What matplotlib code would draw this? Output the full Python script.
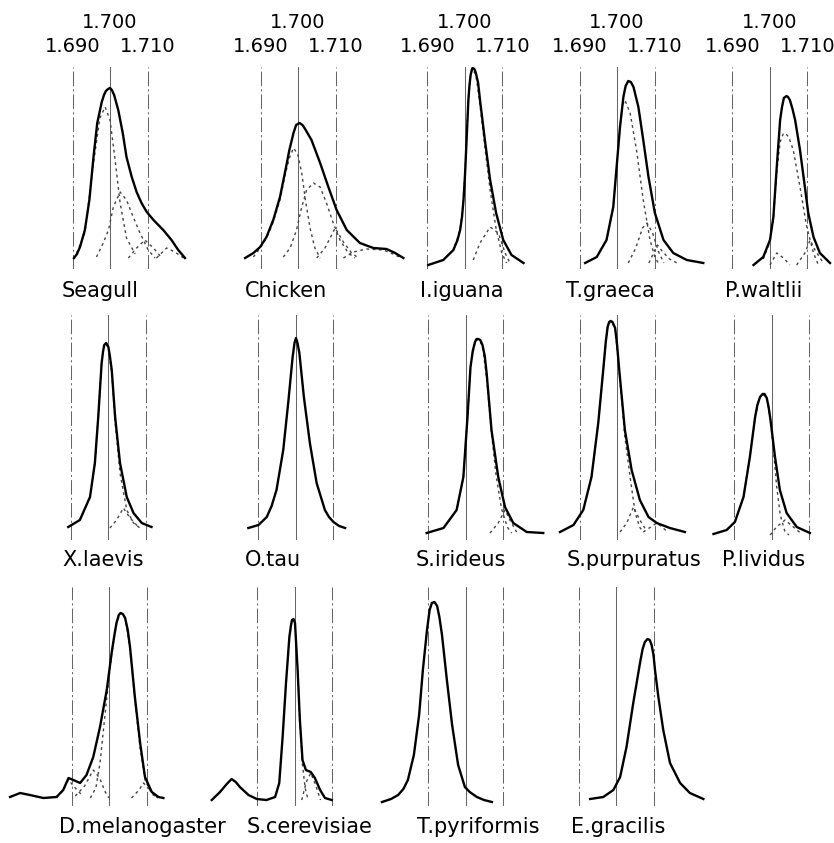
import matplotlib
matplotlib.use("Agg")
import matplotlib.pyplot as plt
from matplotlib.transforms import blended_transform_factory

# CsCl buoyant density (g/cm3) vs relative absorbance
SEAGULL_D = [1.6904, 1.6912, 1.6920, 1.6933, 1.6945, 1.6956, 1.6966, 1.6978, 1.6984, 1.6989, 1.6995,
             1.7000, 1.7005, 1.7011, 1.7022, 1.7034, 1.7044, 1.7058, 1.7071, 1.7084, 1.7098, 1.7116,
             1.7142, 1.7164, 1.7182, 1.7200]
SEAGULL_A = [0, 4, 11, 28, 58, 101, 135, 156, 163, 167, 169, 170, 168, 163, 148, 125, 101, 81, 66, 55,
             46, 38, 28, 18, 8, 0]
SEAGULL_PARTS = [
    ([1.6911, 1.6933, 1.6956, 1.6973, 1.6987, 1.7000, 1.7013, 1.7027, 1.7044, 1.7067],
     [5, 25, 95, 140, 151, 138, 100, 55, 20, 4]),
    ([1.6964, 1.6982, 1.6996, 1.7009, 1.7027, 1.7044, 1.7062, 1.7080, 1.7102, 1.7120],
     [1, 15, 28, 51, 66, 58, 41, 25, 8, 0]),
    ([1.7049, 1.7071, 1.7093, 1.7116, 1.7138], [0, 10, 18, 10, 0]),
    ([1.7124, 1.7151, 1.7173, 1.7196], [0, 10, 6, 0]),
]

CHICKEN_D = [1.6859, 1.6881, 1.6899, 1.6916, 1.6934, 1.6952, 1.6965, 1.6977, 1.6988, 1.6995, 1.7004,
             1.7012, 1.7019, 1.7036, 1.7059, 1.7081, 1.7103, 1.7130, 1.7165, 1.7201, 1.7236, 1.7259,
             1.7281]
CHICKEN_A = [0, 5, 11, 21, 38, 61, 85, 108, 125, 133, 135, 133, 129, 118, 95, 71, 48, 28, 15, 10, 9,
             5, 0]
CHICKEN_PARTS = [
    ([1.6881, 1.6899, 1.6916, 1.6934, 1.6952, 1.6965, 1.6977, 1.6988, 1.6999, 1.7010, 1.7019, 1.7032,
      1.7045, 1.7059],
     [1, 10, 20, 36, 58, 82, 100, 110, 104, 85, 60, 30, 10, 0]),
    ([1.6961, 1.6979, 1.6996, 1.7010, 1.7023, 1.7041, 1.7059, 1.7076, 1.7094, 1.7112, 1.7134, 1.7152],
     [1, 10, 28, 51, 68, 75, 71, 55, 35, 18, 5, 0]),
    ([1.7050, 1.7072, 1.7099, 1.7121, 1.7143, 1.7161], [0, 10, 30, 16, 5, 0]),
    ([1.7121, 1.7148, 1.7183, 1.7228, 1.7259, 1.7276], [0, 6, 9, 8, 3, 0]),
]

IGUANA_D = [1.6902, 1.6942, 1.6969, 1.6980, 1.6987, 1.6992, 1.6996, 1.7000, 1.7003, 1.7009, 1.7012,
            1.7015, 1.7018, 1.7020, 1.7025, 1.7029, 1.7035, 1.7040, 1.7053, 1.7067, 1.7083, 1.7102,
            1.7124, 1.7156]
IGUANA_A = [0, 5, 15, 25, 35, 48, 65, 90, 115, 165, 180, 190, 195, 197, 196, 192, 182, 165, 125, 85,
            52, 25, 10, 2]
IGUANA_PARTS = [
    ([1.6942, 1.6969, 1.6987, 1.6996, 1.7003, 1.7009, 1.7015, 1.7020, 1.7029, 1.7040, 1.7053, 1.7067,
      1.7083, 1.7098, 1.7111],
     [5, 15, 35, 65, 115, 165, 190, 196, 190, 160, 118, 75, 36, 12, 2]),
    ([1.7022, 1.7040, 1.7067, 1.7089, 1.7107, 1.7120], [5, 22, 38, 32, 12, 2]),
]

GRAECA_D = [1.6915, 1.6946, 1.6972, 1.6990, 1.6999, 1.7008, 1.7017, 1.7023, 1.7030, 1.7037, 1.7044,
            1.7057, 1.7070, 1.7084, 1.7101, 1.7124, 1.7150, 1.7186, 1.7230]
GRAECA_A = [0, 6, 23, 56, 96, 136, 166, 177, 182, 181, 176, 156, 123, 86, 50, 23, 10, 3, 0]
GRAECA_PARTS = [
    ([1.6946, 1.6972, 1.6990, 1.6999, 1.7008, 1.7015, 1.7021, 1.7035, 1.7052, 1.7070, 1.7088, 1.7101,
      1.7110],
     [6, 23, 56, 96, 136, 158, 163, 150, 113, 63, 23, 6, 0]),
    ([1.7030, 1.7050, 1.7068, 1.7080, 1.7095, 1.7110, 1.7125], [0, 15, 35, 40, 30, 12, 0]),
    ([1.7085, 1.7100, 1.7108, 1.7120, 1.7140, 1.7160], [0, 12, 18, 12, 4, 0]),
]

WALTLII_D = [1.6956, 1.6982, 1.7000, 1.7009, 1.7018, 1.7027, 1.7032, 1.7037, 1.7044, 1.7048, 1.7053,
             1.7060, 1.7067, 1.7080, 1.7093, 1.7102, 1.7116, 1.7133, 1.7160]
WALTLII_A = [2, 10, 27, 50, 100, 147, 160, 169, 171, 170, 167, 158, 147, 117, 80, 54, 30, 14, 4]
WALTLII_PARTS = [
    ([1.6982, 1.7000, 1.7009, 1.7018, 1.7027, 1.7035, 1.7040, 1.7050, 1.7062, 1.7080, 1.7098, 1.7116,
      1.7129],
     [8, 25, 48, 95, 125, 133, 134, 130, 117, 80, 40, 14, 2]),
    ([1.7071, 1.7093, 1.7107, 1.7120, 1.7142], [2, 14, 27, 17, 4]),
    ([1.7000, 1.7018, 1.7036, 1.7053], [2, 14, 9, 2]),
]

LAEVIS_D = [1.6894, 1.6925, 1.6952, 1.6965, 1.6974, 1.6983, 1.6987, 1.6990, 1.6995, 1.7001, 1.7005,
            1.7010, 1.7019, 1.7032, 1.7050, 1.7068, 1.7090, 1.7116]
LAEVIS_A = [1, 8, 31, 65, 111, 165, 177, 183, 185, 181, 172, 158, 111, 65, 31, 15, 5, 1]
LAEVIS_PARTS = [
    ([1.6925, 1.6952, 1.6965, 1.6974, 1.6983, 1.6990, 1.6995, 1.7001, 1.7010, 1.7019, 1.7032, 1.7050,
      1.7068, 1.7085],
     [8, 31, 65, 111, 165, 183, 185, 180, 155, 106, 55, 18, 5, 0]),
    ([1.7005, 1.7023, 1.7041, 1.7059, 1.7081], [0, 8, 20, 10, 1]),
]

TAU_D = [1.6873, 1.6900, 1.6922, 1.6935, 1.6948, 1.6966, 1.6980, 1.6991, 1.6996, 1.7000, 1.7004,
         1.7009, 1.7021, 1.7037, 1.7055, 1.7077, 1.7088, 1.7100, 1.7115, 1.7131]
TAU_A = [1, 4, 12, 23, 39, 79, 129, 172, 186, 191, 186, 176, 132, 86, 46, 19, 12, 7, 3, 1]
TAU_PARTS = []

IRIDEUS_D = [1.6895, 1.6940, 1.6975, 1.6993, 1.7004, 1.7012, 1.7018, 1.7024, 1.7028, 1.7033, 1.7038,
             1.7044, 1.7050, 1.7055, 1.7068, 1.7086, 1.7104, 1.7126, 1.7162, 1.7206]
IRIDEUS_A = [0, 5, 23, 56, 116, 166, 182, 191, 194, 194, 193, 188, 177, 160, 103, 56, 26, 10, 1, 0]
IRIDEUS_PARTS = [
    ([1.6940, 1.6975, 1.6993, 1.7004, 1.7012, 1.7024, 1.7033, 1.7044, 1.7055, 1.7068, 1.7080, 1.7095,
      1.7110, 1.7122],
     [5, 23, 56, 116, 166, 191, 194, 187, 155, 100, 58, 24, 6, 0]),
    ([1.7064, 1.7086, 1.7104, 1.7117, 1.7135], [0, 10, 23, 13, 1]),
]

PURPURATUS_D = [1.6848, 1.6884, 1.6910, 1.6932, 1.6950, 1.6964, 1.6970, 1.6975, 1.6979, 1.6983,
                1.6988, 1.6995, 1.7000, 1.7006, 1.7021, 1.7039, 1.7061, 1.7084, 1.7106, 1.7141, 1.7181]
PURPURATUS_A = [0, 7, 22, 55, 109, 165, 190, 205, 210, 211, 210, 204, 188, 162, 102, 62, 32, 15, 9,
                4, 0]
PURPURATUS_PARTS = [
    ([1.6884, 1.6910, 1.6932, 1.6950, 1.6964, 1.6975, 1.6983, 1.6995, 1.7006, 1.7021, 1.7035, 1.7048,
      1.7060, 1.7070],
     [7, 22, 55, 109, 165, 205, 211, 204, 160, 95, 55, 20, 5, 0]),
    ([1.7008, 1.7026, 1.7044, 1.7061, 1.7079], [0, 9, 25, 12, 1]),
    ([1.7070, 1.7090, 1.7106, 1.7120, 1.7135], [0, 5, 9, 5, 0]),
]

LIVIDUS_D = [1.6844, 1.6879, 1.6901, 1.6924, 1.6941, 1.6955, 1.6961, 1.6968, 1.6975, 1.6980, 1.6986,
             1.6991, 1.6996, 1.7008, 1.7021, 1.7039, 1.7066, 1.7101]
LIVIDUS_A = [1, 5, 13, 38, 78, 118, 130, 138, 141, 141, 137, 128, 115, 78, 45, 22, 8, 2]
LIVIDUS_PARTS = [
    ([1.6879, 1.6901, 1.6924, 1.6941, 1.6955, 1.6968, 1.6975, 1.6986, 1.6996, 1.7004, 1.7012, 1.7022,
      1.7034, 1.7045],
     [5, 13, 38, 78, 118, 138, 141, 137, 115, 85, 50, 20, 4, 0]),
    ([1.6995, 1.7012, 1.7035, 1.7057, 1.7079], [0, 8, 15, 8, 1]),
]

MELANOGASTER_D = [1.6736, 1.6763, 1.6789, 1.6825, 1.6860, 1.6878, 1.6892, 1.6905, 1.6923, 1.6940,
                  1.6958, 1.6976, 1.6994, 1.7007, 1.7014, 1.7020, 1.7026, 1.7031, 1.7037, 1.7043,
                  1.7050, 1.7056, 1.7069, 1.7083, 1.7096, 1.7114, 1.7132, 1.7145]
MELANOGASTER_A = [1, 5, 3, 0, 1, 8, 20, 18, 15, 23, 41, 71, 108, 145, 162, 175, 183, 185, 184, 180,
                  168, 151, 101, 55, 21, 6, 1, 0]
MELANOGASTER_PARTS = [
    ([1.6950, 1.6965, 1.6976, 1.6994, 1.7007, 1.7020, 1.7031, 1.7043, 1.7056, 1.7069, 1.7083, 1.7096,
      1.7114, 1.7130],
     [0, 10, 35, 100, 143, 175, 185, 180, 150, 98, 50, 18, 4, 0]),
    ([1.6860, 1.6878, 1.6892, 1.6910, 1.6930], [0, 8, 18, 10, 2]),
    ([1.6910, 1.6935, 1.6958, 1.6975, 1.6990, 1.7000], [2, 12, 28, 20, 6, 0]),
    ([1.7060, 1.7080, 1.7092, 1.7110, 1.7130], [0, 8, 15, 8, 0]),
]

CEREVISIAE_D = [1.6778, 1.6800, 1.6818, 1.6831, 1.6842, 1.6853, 1.6876, 1.6898, 1.6924, 1.6947,
                1.6958, 1.6967, 1.6976, 1.6985, 1.6989, 1.6992, 1.6996, 1.7000, 1.7007, 1.7013,
                1.7020, 1.7029, 1.7042, 1.7053, 1.7067, 1.7080, 1.7098]
CEREVISIAE_A = [0, 8, 16, 21, 18, 13, 5, 1, 0, 3, 17, 63, 117, 163, 174, 180, 181, 177, 130, 80, 40,
                30, 28, 22, 10, 2, 0]
CEREVISIAE_PARTS = [
    ([1.7007, 1.7013, 1.7020, 1.7027, 1.7035], [130, 78, 35, 12, 0]),
    ([1.7018, 1.7030, 1.7042, 1.7055, 1.7068], [0, 18, 27, 15, 0]),
]

PYRIFORMIS_D = [1.6776, 1.6800, 1.6819, 1.6833, 1.6845, 1.6861, 1.6875, 1.6885, 1.6896, 1.6903,
                1.6909, 1.6916, 1.6923, 1.6929, 1.6936, 1.6949, 1.6963, 1.6979, 1.6997, 1.7010,
                1.7029, 1.7048, 1.7069]
PYRIFORMIS_A = [0, 3, 7, 13, 22, 47, 87, 132, 172, 192, 199, 200, 196, 185, 167, 122, 77, 37, 15,
                10, 5, 2, 0]
PYRIFORMIS_PARTS = []

GRACILIS_D = [1.6931, 1.6966, 1.6993, 1.7011, 1.7028, 1.7046, 1.7064, 1.7071, 1.7077, 1.7084, 1.7090,
              1.7095, 1.7100, 1.7104, 1.7113, 1.7126, 1.7144, 1.7171, 1.7197, 1.7233]
GRACILIS_A = [0, 2, 9, 22, 52, 96, 136, 150, 157, 160, 159, 154, 144, 129, 102, 69, 36, 16, 6, 0]
GRACILIS_PARTS = []

MARKERS = [1.690, 1.700, 1.710]
MARKER_LABELS = ["1.690", "1.700", "1.710"]

W, H = 834, 843
PX_PER_UNIT = 3750.0   # pixels per g/cm3
# row: (top of guide lines, bottom of guide lines, label y), in pixels
ROWS = [(67, 269, 291), (315, 540, 560), (587, 806, 827)]

panels = [
    ("Seagull", SEAGULL_D, SEAGULL_A, SEAGULL_PARTS, 110, 258, 0, 62),
    ("Chicken", CHICKEN_D, CHICKEN_A, CHICKEN_PARTS, 298, 258, 0, 245),
    ("I.iguana", IGUANA_D, IGUANA_A, IGUANA_PARTS, 465, 265, 0, 420),
    ("T.graeca", GRAECA_D, GRAECA_A, GRAECA_PARTS, 617, 263, 0, 566),
    ("P.waltlii", WALTLII_D, WALTLII_A, WALTLII_PARTS, 770, 267, 0, 725),
    ("X.laevis", LAEVIS_D, LAEVIS_A, LAEVIS_PARTS, 108, 528, 1, 62),
    ("O.tau", TAU_D, TAU_A, TAU_PARTS, 296, 529, 1, 245),
    ("S.irideus", IRIDEUS_D, IRIDEUS_A, IRIDEUS_PARTS, 466, 533, 1, 416),
    ("S.purpuratus", PURPURATUS_D, PURPURATUS_A, PURPURATUS_PARTS, 617, 532, 1, 567),
    ("P.lividus", LIVIDUS_D, LIVIDUS_A, LIVIDUS_PARTS, 772, 535, 1, 722),
    ("D.melanogaster", MELANOGASTER_D, MELANOGASTER_A, MELANOGASTER_PARTS, 109, 798, 2, 59),
    ("S.cerevisiae", CEREVISIAE_D, CEREVISIAE_A, CEREVISIAE_PARTS, 295, 800, 2, 247),
    ("T.pyriformis", PYRIFORMIS_D, PYRIFORMIS_A, PYRIFORMIS_PARTS, 466, 802, 2, 417),
    ("E.gracilis", GRACILIS_D, GRACILIS_A, GRACILIS_PARTS, 616, 799, 2, 571),
]

fig = plt.figure(figsize=(W / 100, H / 100), dpi=100)
fig.patch.set_facecolor("white")

for name, dens, absb, parts, cx, base, row, lx in panels:
    top, bot, ly = ROWS[row]
    left = cx - 0.030 * PX_PER_UNIT
    ax = fig.add_axes([left / W, 1 - bot / H, 0.060 * PX_PER_UNIT / W, (bot - top) / H])
    ax.set_xlim(1.670, 1.730)
    ax.set_ylim(base - bot, base - top)
    ax.axis("off")
    ax.patch.set_alpha(0)

    # reference densities
    for m in MARKERS:
        style = "-" if m == 1.700 else (0, (14, 3, 2, 3))
        ax.axvline(m, color="#666666", lw=0.75, ls=style, zorder=1)

    # fitted components
    for pd_, pa in parts:
        ax.plot(pd_, pa, color="#444444", lw=1.0, ls=(0, (2, 2.5)), zorder=2)

    ax.plot(dens, absb, color="black", lw=1.7, solid_joinstyle="round", zorder=3)

    fig.text(lx / W, 1 - ly / H, name, fontsize=15, ha="left", va="center")

    # density scale on the top row
    if row == 0:
        tr = blended_transform_factory(ax.transData, fig.transFigure)
        for m, lab in zip(MARKERS, MARKER_LABELS):
            y = 22 if m == 1.700 else 47
            ax.text(m, 1 - y / H, lab, transform=tr, fontsize=14, ha="center", va="center")

fig.savefig("out.png", dpi=100, facecolor="white")
